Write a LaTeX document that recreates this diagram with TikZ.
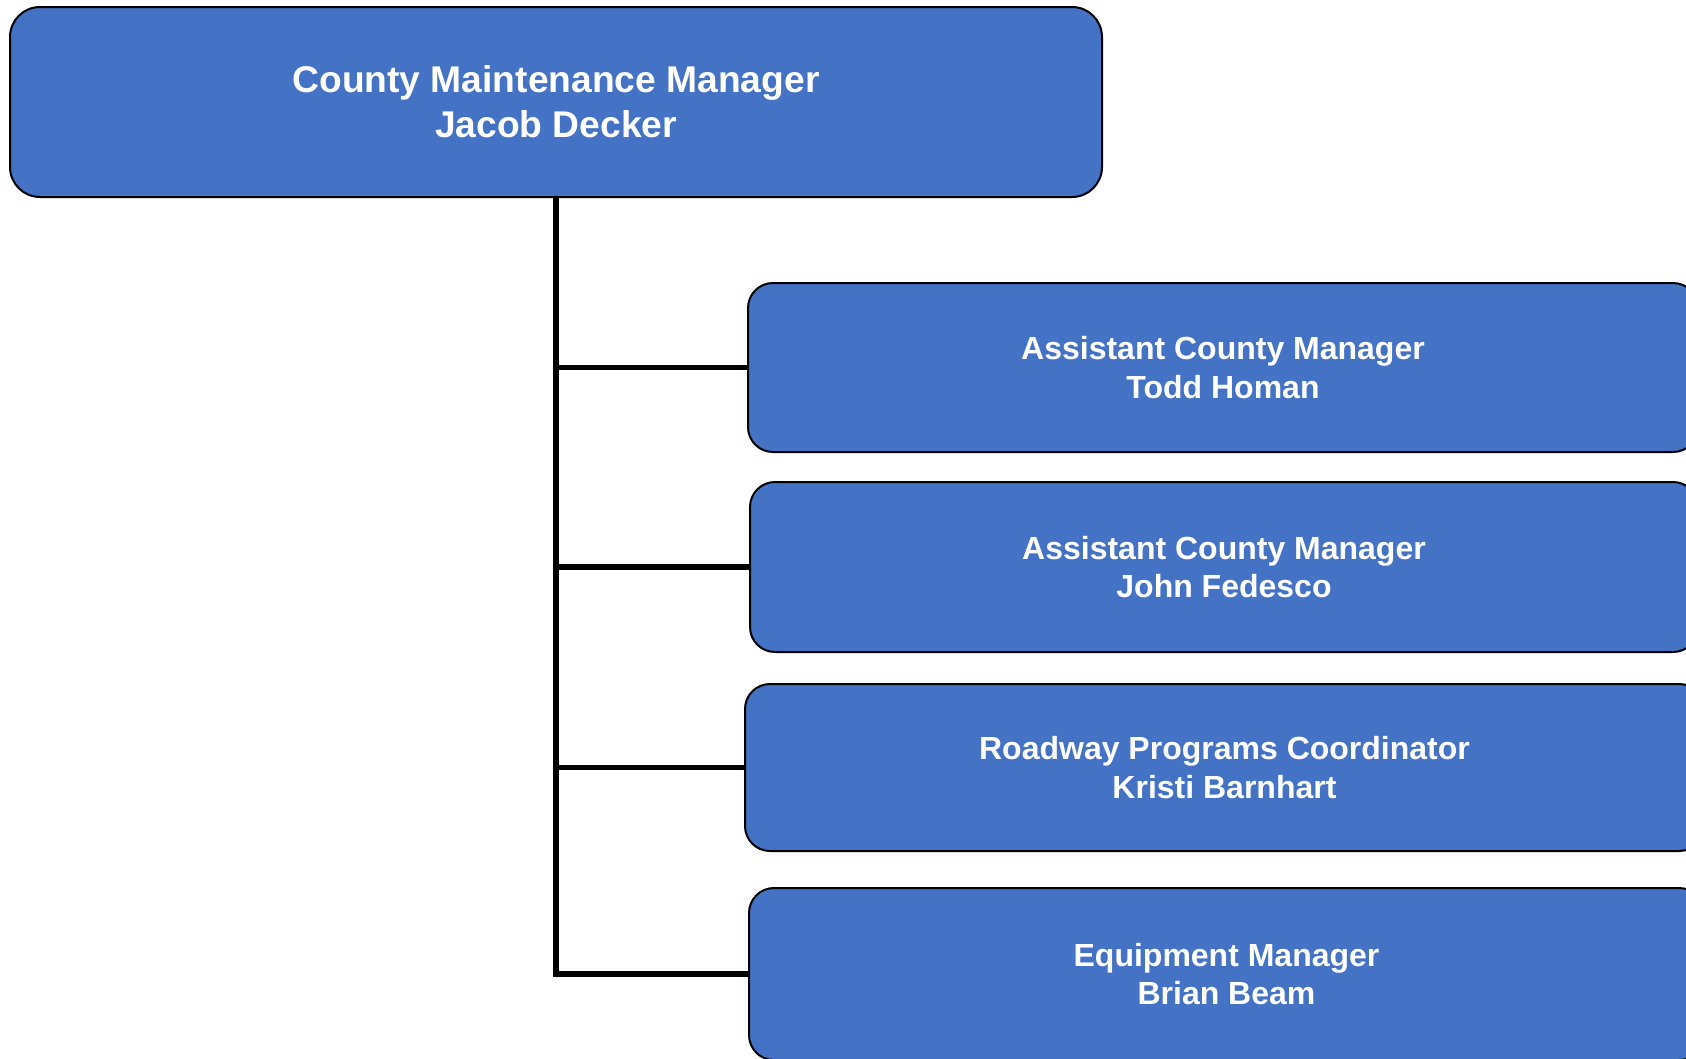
\documentclass[tikz,border=0pt]{standalone}
\usepackage{fontspec}
\setmainfont{Liberation Sans}
\definecolor{boxblue}{HTML}{4472C4}
\begin{document}
\begin{tikzpicture}[x=1pt,y=-1pt,
  orgbox/.style={draw=black, line width=2pt, fill=boxblue, text=white,
    font=\bfseries, align=center, inner sep=0pt},
  topbox/.style={orgbox, rounded corners=30pt, font=\fontsize{37.2}{45}\selectfont\bfseries},
  subbox/.style={orgbox, rounded corners=25pt, font=\fontsize{32}{38.7}\selectfont\bfseries},
  link/.style={draw=black, line width=5.5pt}]
\useasboundingbox (0,0) rectangle (1686,1058);
\clip (0,0) rectangle (1686,1058);
\node[topbox, minimum width=1092pt, minimum height=190pt] (top) at (556,102)
  {County Maintenance Manager\\Jacob Decker};
\node[subbox, minimum width=950pt, minimum height=169pt] (b1) at (1223,367.5)
  {Assistant County Manager\\Todd Homan};
\node[subbox, minimum width=948pt, minimum height=170pt] (b2) at (1224,567)
  {Assistant County Manager\\John Fedesco};
\node[subbox, minimum width=959pt, minimum height=167pt] (b3) at (1224.5,767.5)
  {Roadway Programs Coordinator\\Kristi Barnhart};
\node[subbox, minimum width=955pt, minimum height=172pt] (b4) at (1226.5,974)
  {Equipment Manager\\Brian Beam};
\draw[link] (top.south) -- (top.south |- b4.west) -- (b4.west);
\draw[link] (top.south |- b1.west) -- (b1.west);
\draw[link] (top.south |- b2.west) -- (b2.west);
\draw[link] (top.south |- b3.west) -- (b3.west);
\end{tikzpicture}
\end{document}
